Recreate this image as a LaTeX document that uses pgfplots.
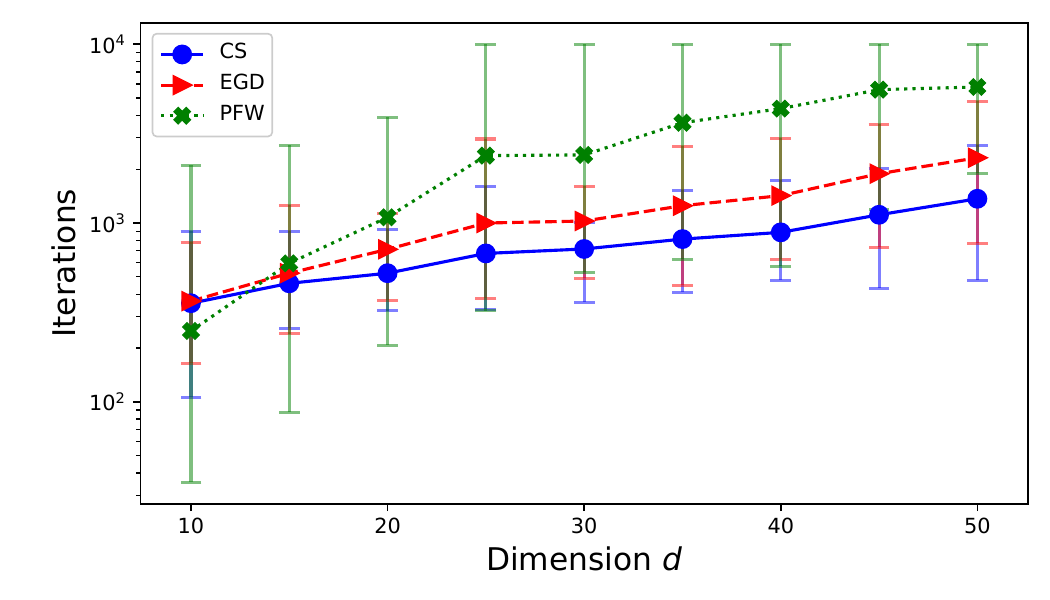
\documentclass[border=0pt]{standalone}
\usepackage{fontspec}
\setmainfont{DejaVu Sans}
\usepackage{pgfplots}
\pgfplotsset{compat=1.18}
\usepackage{pgfplotstable}
\usetikzlibrary{calc}

\definecolor{mplgreen}{rgb}{0,0.5,0}
\definecolor{legedge}{rgb}{0.8,0.8,0.8}

\pgfdeclareplotmark{Xf}{%
  \pgftransformrotate{45}%
  \pgfpathmoveto{\pgfpoint{0.3667\pgfplotmarksize}{1.0476\pgfplotmarksize}}%
  \pgfpathlineto{\pgfpoint{0.3667\pgfplotmarksize}{0.3667\pgfplotmarksize}}%
  \pgfpathlineto{\pgfpoint{1.0476\pgfplotmarksize}{0.3667\pgfplotmarksize}}%
  \pgfpathlineto{\pgfpoint{1.0476\pgfplotmarksize}{-0.3667\pgfplotmarksize}}%
  \pgfpathlineto{\pgfpoint{0.3667\pgfplotmarksize}{-0.3667\pgfplotmarksize}}%
  \pgfpathlineto{\pgfpoint{0.3667\pgfplotmarksize}{-1.0476\pgfplotmarksize}}%
  \pgfpathlineto{\pgfpoint{-0.3667\pgfplotmarksize}{-1.0476\pgfplotmarksize}}%
  \pgfpathlineto{\pgfpoint{-0.3667\pgfplotmarksize}{-0.3667\pgfplotmarksize}}%
  \pgfpathlineto{\pgfpoint{-1.0476\pgfplotmarksize}{-0.3667\pgfplotmarksize}}%
  \pgfpathlineto{\pgfpoint{-1.0476\pgfplotmarksize}{0.3667\pgfplotmarksize}}%
  \pgfpathlineto{\pgfpoint{-0.3667\pgfplotmarksize}{0.3667\pgfplotmarksize}}%
  \pgfpathlineto{\pgfpoint{-0.3667\pgfplotmarksize}{1.0476\pgfplotmarksize}}%
  \pgfpathclose
  \pgfusepathqfillstroke
}
\pgfdeclareplotmark{tri>}{%
  \pgfpathmoveto{\pgfpoint{\pgfplotmarksize}{0pt}}%
  \pgfpathlineto{\pgfpoint{-\pgfplotmarksize}{\pgfplotmarksize}}%
  \pgfpathlineto{\pgfpoint{-\pgfplotmarksize}{-\pgfplotmarksize}}%
  \pgfpathclose
  \pgfusepathqfillstroke
}

% x  mean  lower  upper
\pgfplotstableread{
x  y     lo     hi
10 356   106    900
15 460   258    900
20 524   324    923
25 676   329    1604
30 716   360    1009
35 813   409    1524
40 887   478    1734
45 1112  432    2024
50 1367  478    2723
}\csdata
\pgfplotstableread{
x  y     lo     hi
10 366   164    780
15 524   241    1256
20 713   369    1133
25 1000  379    2951
30 1026  490    1604
35 1250  448    2686
40 1423  627    2978
45 1888  731    3566
50 2318  769    4797
}\egddata
\pgfplotstableread{
x  y     lo     hi
10 249   35.4   2104
15 595   87.3   2723
20 1077  207    3909
25 2383  324    10000
30 2404  530    10000
35 3640  627    10000
40 4366  573    10000
45 5573  1194   10000
50 5768  1896   10000
}\pfwdata

\begin{document}
\begin{tikzpicture}
\begin{axis}[
  scale only axis,
  width=425.76pt, height=230.88pt,
  ymode=log,
  xmin=7.44, xmax=52.56,
  ymin=26.9, ymax=13200,
  xtick={10,20,30,40,50},
  ytick={100,1000,10000},
  yticklabels={10\textsuperscript{2},10\textsuperscript{3},10\textsuperscript{4}},
  minor ytick={30,40,50,60,70,80,90,200,300,400,500,600,700,800,900,2000,3000,4000,5000,6000,7000,8000,9000},
  tick align=outside,
  xtick pos=bottom, ytick pos=left,
  major tick length=3.5pt, minor tick length=2pt,
  every major tick/.style={black, line width=0.8pt},
  every minor tick/.style={black, line width=0.6pt},
  axis line style={line width=0.8pt, black},
  tick label style={font=\fontsize{10}{12}\selectfont},
  /pgf/number format/assume math mode=true,
  xlabel={Dimension \textit{d}},
  ylabel={Iterations},
  label style={font=\fontsize{15}{18}\selectfont},
  xlabel style={at={(axis description cs:0.5,-0.1378)}, anchor=base},
  ylabel style={at={(axis description cs:-0.0733,0.5)}, anchor=base},
  legend cell align=left,
  legend image code/.code={\draw[mark repeat=2,mark phase=2,#1,fill opacity=1,draw opacity=1] plot coordinates {(0pt,0pt) (10pt,0pt) (20pt,0pt)};},
  legend style={at={(axis description cs:0.01245,0.9788)}, anchor=north west,
    draw=legedge, line width=0.8pt, rounded corners=2pt, fill=white, fill opacity=0.8, text opacity=1,
    font=\fontsize{10}{12}\selectfont, inner xsep=3.5pt, inner ysep=4.8pt, row sep=4.4pt,
    nodes={inner sep=0pt, text height=7.3pt, text depth=3pt},
    /tikz/every odd column/.append style={column sep=7.2pt}},
  error bars/y dir=both,
  error bars/y explicit,
  error bars/error mark options={rotate=90, mark size=5pt, line width=1.5pt, opacity=0.5},
  error bars/error bar style={line width=1.5pt, opacity=0.5, solid},
]
\addplot[blue, line width=1.5pt, mark=*, mark size=4pt, mark options={solid}]
  table[x=x, y=y, y error plus expr=\thisrow{hi}-\thisrow{y}, y error minus expr=\thisrow{y}-\thisrow{lo}] {\csdata};
\addlegendentry{CS}
\addplot[red, line width=1.5pt, dash pattern=on 5.55pt off 2.4pt, mark=tri>, mark size=3.8pt, mark options={solid}]
  table[x=x, y=y, y error plus expr=\thisrow{hi}-\thisrow{y}, y error minus expr=\thisrow{y}-\thisrow{lo}] {\egddata};
\addlegendentry{EGD}
\addplot[mplgreen, line width=1.5pt, dash pattern=on 1.5pt off 2.475pt, mark=Xf, mark size=4pt, mark options={solid, line width=0.5pt}]
  table[x=x, y=y, y error plus expr=\thisrow{hi}-\thisrow{y}, y error minus expr=\thisrow{y}-\thisrow{lo}] {\pfwdata};
\addlegendentry{PFW}
\end{axis}
\pgfresetboundingbox
\path ($(current axis.south west)+(-67.5pt,-46.2pt)$) rectangle ($(current axis.north east)+(10.7pt,10.9pt)$);
\end{tikzpicture}
\end{document}
